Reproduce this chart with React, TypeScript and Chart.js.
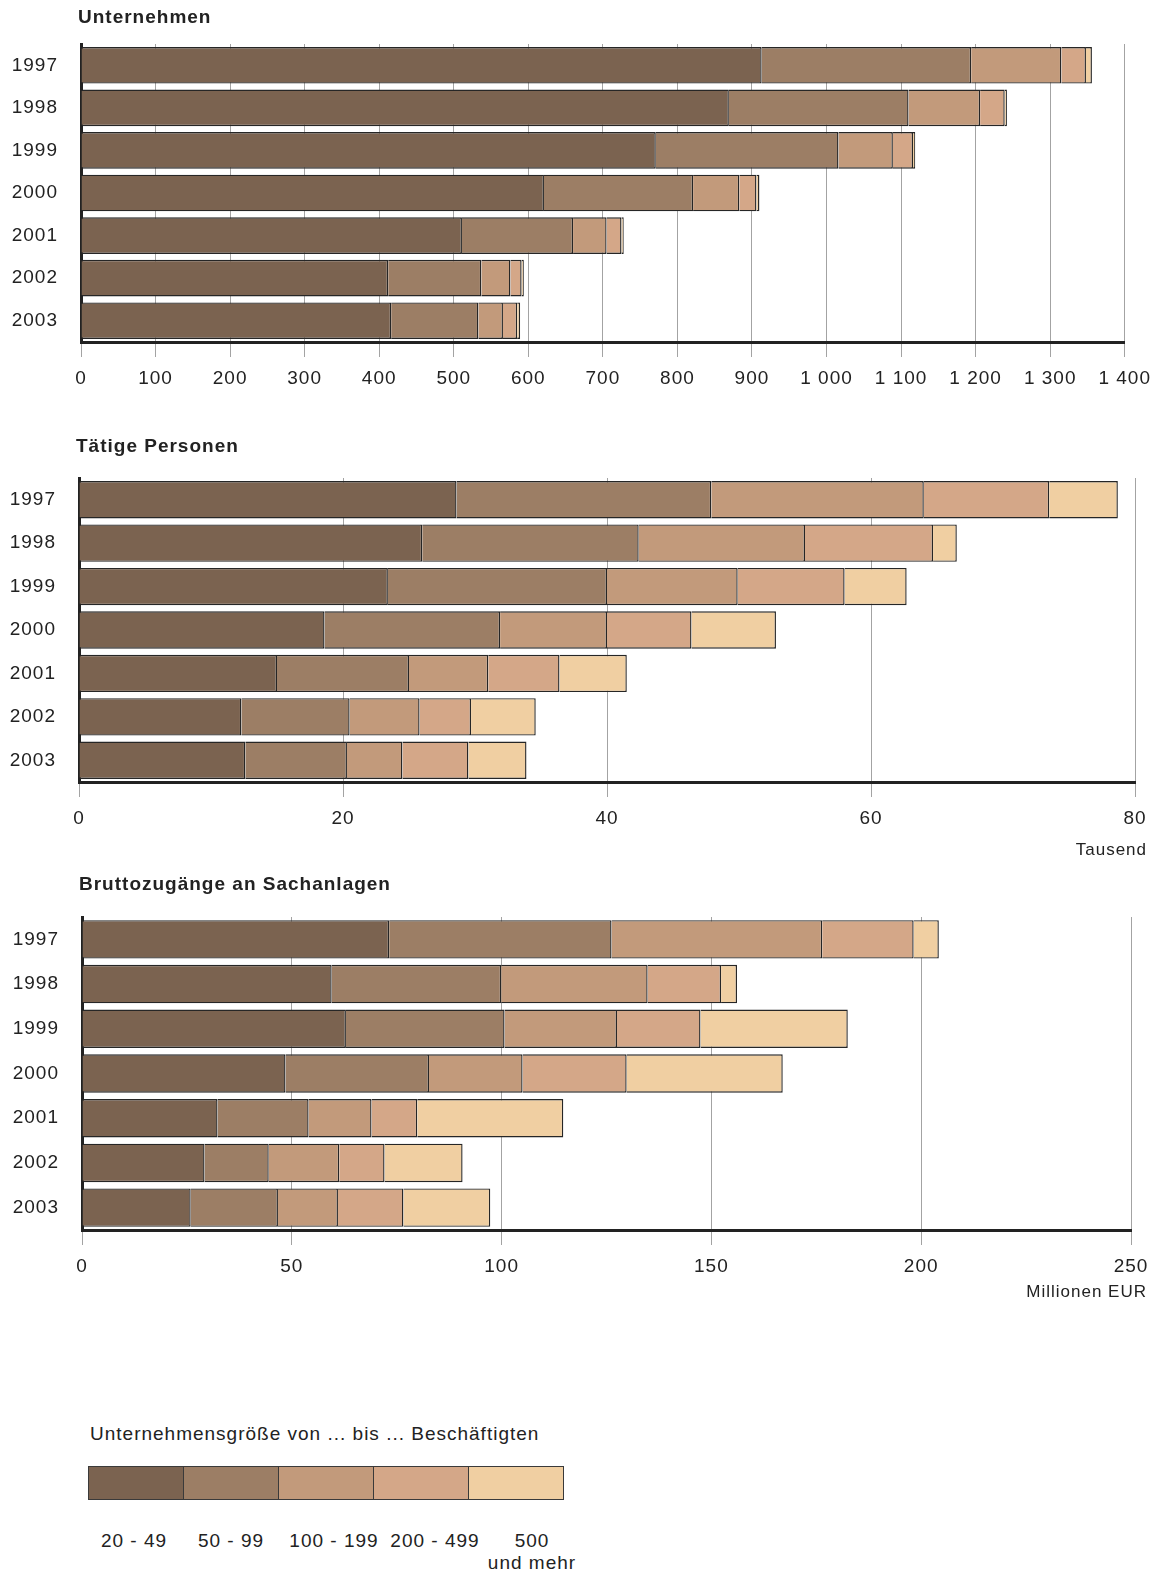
import React, { useEffect, useRef } from 'react';
import { Chart, registerables } from 'chart.js';

Chart.register(...registerables);
Chart.defaults.font.family = '"Liberation Sans", Arial, Helvetica, sans-serif';
Chart.defaults.color = '#222';

// ---------- data ----------
const years = ['1997', '1998', '1999', '2000', '2001', '2002', '2003'];
const sizeClasses = ['20 - 49', '50 - 99', '100 - 199', '200 - 499', '500 und mehr'];
const colors = ['#7b6350', '#9c7e65', '#c29a7b', '#d4a788', '#f0cfa2'];

// Unternehmen (Anzahl)
const unt2049 = [913, 869, 771, 621, 511, 412, 416];
const unt5099 = [281, 241, 245, 200, 149, 125, 117];
const unt100199 = [121, 96, 73, 62, 45, 39, 33];
const unt200499 = [33, 33, 27, 23, 20, 15, 19];
const unt500 = [8, 3, 3, 4, 3, 3, 4];

// Tätige Personen (Tausend)
const pers2049 = [28.6, 26.0, 23.4, 18.6, 15.0, 12.3, 12.6];
const pers5099 = [19.3, 16.4, 16.6, 13.3, 10.0, 8.2, 7.7];
const pers100199 = [16.1, 12.6, 9.9, 8.1, 6.0, 5.3, 4.2];
const pers200499 = [9.5, 9.7, 8.1, 6.4, 5.4, 3.9, 5.0];
const pers500 = [5.2, 1.8, 4.7, 6.4, 5.1, 4.9, 4.4];

// Bruttozugänge an Sachanlagen (Millionen EUR)
const inv2049 = [73.2, 59.5, 62.9, 48.5, 32.3, 29.2, 25.9];
const inv5099 = [53.0, 40.4, 37.8, 34.2, 21.7, 15.3, 20.8];
const inv100199 = [50.2, 34.9, 26.8, 22.3, 15.0, 16.8, 14.3];
const inv200499 = [21.8, 17.5, 19.9, 24.8, 10.9, 10.8, 15.6];
const inv500 = [6.0, 3.8, 35.1, 37.2, 34.8, 18.6, 20.7];

const untAxis = { max: 1400, step: 100 };
const persAxis = { max: 80, step: 20 };
const invAxis = { max: 250, step: 50 };

const legendLabels = [['20 - 49'], ['50 - 99'], ['100 - 199'], ['200 - 499'], ['500', 'und mehr']];

// ---------- helpers ----------
const fmtThousands = (v: number) => String(v).replace(/\B(?=(\d{3})+(?!\d))/g, ' ');

const letterSpacingPlugin = {
  id: 'letterSpacing',
  beforeInit(chart: any) { chart.ctx.letterSpacing = '1px'; },
  beforeUpdate(chart: any) { chart.ctx.letterSpacing = '1px'; },
  beforeLayout(chart: any) { chart.ctx.letterSpacing = '1px'; },
  beforeDraw(chart: any) { chart.ctx.letterSpacing = '1px'; },
};

type Spec = {
  top: number;
  height: number;
  padTop: number;
  axisW: number;
  padRight: number;
  xAxisH: number;
  max: number;
  step: number;
  series: number[][];
  fmt: (v: number) => string;
};

function BarChart({ spec }: { spec: Spec }) {
  const ref = useRef<HTMLCanvasElement>(null);
  useEffect(() => {
    const chart = new Chart(ref.current as HTMLCanvasElement, {
      type: 'bar',
      data: {
        labels: years,
        datasets: spec.series.map((d, i) => ({
          label: sizeClasses[i],
          data: d,
          backgroundColor: colors[i],
          borderColor: '#262626',
          borderWidth: 1.4,
          borderSkipped: 'start',
          inflateAmount: 0,
          barPercentage: 0.86,
          categoryPercentage: 1,
        })),
      },
      options: {
        indexAxis: 'y',
        responsive: false,
        animation: false,
        devicePixelRatio: 1,
        layout: { autoPadding: false, padding: { top: spec.padTop, right: spec.padRight, left: 0, bottom: 0 } },
        plugins: {
          legend: { display: false },
          tooltip: { enabled: false },
          title: { display: false },
        },
        scales: {
          x: {
            stacked: true,
            min: 0,
            max: spec.max,
            ticks: {
              stepSize: spec.step,
              padding: 10,
              color: '#222',
              font: { size: 19 },
              maxRotation: 0,
              autoSkip: false,
              callback: (v: any) => spec.fmt(Number(v)),
            },
            grid: { color: '#a3a3a3', lineWidth: 1, tickLength: 15, drawOnChartArea: true },
            border: { color: '#222', width: 3 },
            afterFit: (s: any) => { s.height = spec.xAxisH; },
          } as any,
          y: {
            stacked: true,
            grid: { drawOnChartArea: false, drawTicks: false },
            border: { color: '#222', width: 3 },
            ticks: { padding: 23, color: '#222', font: { size: 19 } },
            afterFit: (s: any) => { s.width = spec.axisW; },
          } as any,
        },
      },
      plugins: [letterSpacingPlugin],
    });
    return () => chart.destroy();
  }, []);
  return (
    <canvas
      ref={ref}
      width={1161}
      height={spec.height}
      style={{ position: 'absolute', left: 0, top: spec.top, width: 1161, height: spec.height }}
    />
  );
}

const specs: Spec[] = [
  {
    top: 0, height: 400, padTop: 44, axisW: 81, padRight: 34, xAxisH: 58,
    max: untAxis.max, step: untAxis.step,
    series: [unt2049, unt5099, unt100199, unt200499, unt500], fmt: fmtThousands,
  },
  {
    top: 430, height: 410, padTop: 48, axisW: 79, padRight: 26, xAxisH: 58,
    max: persAxis.max, step: persAxis.step,
    series: [pers2049, pers5099, pers100199, pers200499, pers500], fmt: (v) => String(v),
  },
  {
    top: 870, height: 420, padTop: 47, axisW: 82, padRight: 30, xAxisH: 60,
    max: invAxis.max, step: invAxis.step,
    series: [inv2049, inv5099, inv100199, inv200499, inv500], fmt: (v) => String(v),
  },
];

const titles = [
  { text: 'Unternehmen', left: 78, cy: 17 },
  { text: 'Tätige Personen', left: 76, cy: 446 },
  { text: 'Bruttozugänge an Sachanlagen', left: 79, cy: 884 },
];

const units = [
  { text: 'Tausend', right: 1147, cy: 850 },
  { text: 'Millionen EUR', right: 1147, cy: 1292 },
];

const legendCenters = [134, 231, 334, 435, 532];

const textBase: React.CSSProperties = {
  position: 'absolute',
  fontFamily: '"Liberation Sans", Arial, Helvetica, sans-serif',
  color: '#222',
  whiteSpace: 'nowrap',
  lineHeight: '22px',
  height: 22,
};

export default function App() {
  return (
    <div style={{ position: 'absolute', left: 0, top: 0, width: 1161, height: 1576, background: '#fff', overflow: 'hidden' }}>
      {specs.map((s, i) => <BarChart key={i} spec={s} />)}
      {titles.map((t, i) => (
        <div key={'t' + i} style={{ ...textBase, left: t.left, top: t.cy - 11, fontSize: 19, fontWeight: 'bold', letterSpacing: '1px' }}>{t.text}</div>
      ))}
      {units.map((u, i) => (
        <div key={'u' + i} style={{ ...textBase, right: 1161 - u.right, top: u.cy - 11, fontSize: 17, letterSpacing: '1px' }}>{u.text}</div>
      ))}
      <div style={{ ...textBase, left: 90, top: 1423, fontSize: 19, letterSpacing: '1px' }}>
        Unternehmensgröße von ... bis ... Beschäftigten
      </div>
      {colors.map((c, i) => (
        <div key={'s' + i} style={{ position: 'absolute', left: 88 + i * 95, top: 1466, width: 96, height: 34, background: c, border: '1px solid #3a3a3a', boxSizing: 'border-box' }} />
      ))}
      {legendLabels.map((lines, i) => (
        <div key={'l' + i} style={{ position: 'absolute', left: legendCenters[i], top: 1530, transform: 'translateX(-50%)', textAlign: 'center', fontFamily: '"Liberation Sans", Arial, Helvetica, sans-serif', fontSize: 19, letterSpacing: '1px', lineHeight: '22px', color: '#222', whiteSpace: 'nowrap' }}>
          {lines.map((l, j) => <div key={j}>{l}</div>)}
        </div>
      ))}
    </div>
  );
}
